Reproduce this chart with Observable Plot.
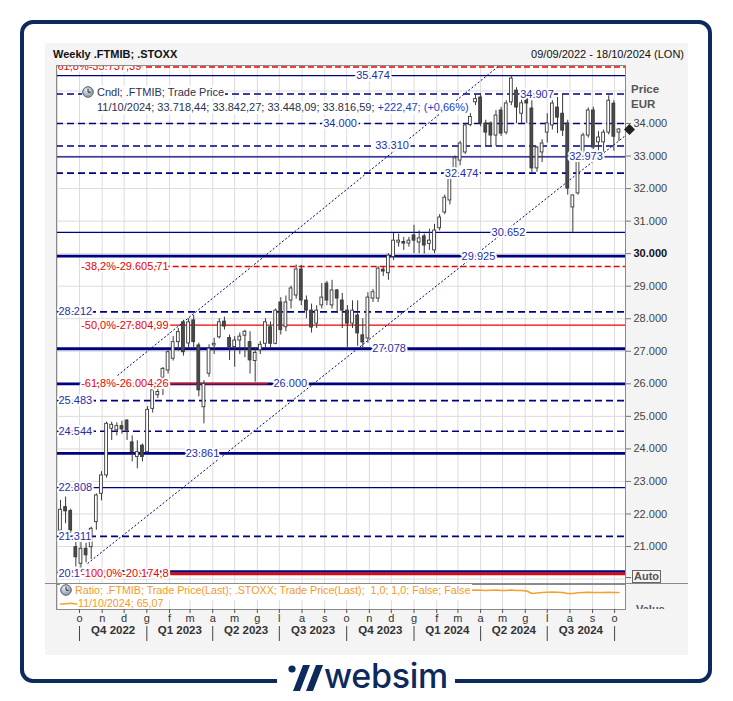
<!DOCTYPE html>
<html>
<head>
<meta charset="utf-8">
<script src="https://cdn.jsdelivr.net/npm/d3@7"></script>
<script src="https://cdn.jsdelivr.net/npm/@observablehq/plot@0.6"></script>
<style>
  body { margin: 0; background: #fff; }
  #wrap { position: relative; width: 733px; height: 701px; overflow: hidden; font-family: "Liberation Sans", Arial, sans-serif; font-size: 11px; }
  .abs { position: absolute; white-space: nowrap; }
  .frame { left: 20px; top: 20px; width: 692px; height: 663px; border: 4px solid #0d2a5c; border-radius: 13px; box-sizing: border-box; }
  .panel { left: 45px; top: 43px; width: 643px; height: 612px; background: #f4f4f4; }
  .lgd { background: #fff; line-height: 13px; }
</style>
</head>
<body>
<div id="wrap">
  <div class="abs frame"></div>
  <div class="abs panel"></div>
  <div class="abs" style="left:53px;top:48px;font-weight:bold;color:#111;line-height:13px;">Weekly .FTMIB; .STOXX</div>
  <div class="abs" style="right:49px;top:48px;color:#111;line-height:13px;">09/09/2022 - 18/10/2024 (LON)</div>
  <div id="plots"></div>
</div>
<script>
// ---------- DATA ----------
const firstWeek = "2022-09-05";
const lastWeek = "2024-10-07";
const lastCandleLabel = "11/10/2024";

const weekOpen = [21490,22210,22090,20980,20470,20930,20980,21750,22620,23184,
  24620,24570,24700,24870,24200,23750,24100,23900,25230,25650,
  26185,26410,26770,27280,27890,27240,27950,27180,25280,26310,
  27180,27430,27910,27410,27130,27330,27480,27280,26700,27030,
  27230,27740,27230,28500,27740,28560,28715,29513,28560,28250,
  27850,28410,29080,28410,28870,28560,28250,27850,28100,27490,
  27393,28620,28620,29510,29400,29900,30340,30360,30310,30560,
  30340,30530,30300,30100,30780,31265,31635,32620,32860,33110,
  33950,34650,34800,34000,34000,33630,34400,33720,34650,35010,
  34300,34800,34460,32620,33110,33720,33940,34490,34300,34000,
  31420,31850,33020,33630,34400,33420,33420,33720,34610,33718.44];
const weekHigh = [22420,22520,22150,21390,21240,21100,21600,22620,23300,24820,
  24820,24800,24850,24900,24400,24250,24150,25300,25850,25850,
  26500,27050,27450,27700,27950,28000,28100,27250,26100,27200,
  27400,28000,28050,27500,27450,27560,27650,27600,27100,27300,
  28000,27900,28300,28650,28700,29000,29650,29640,28700,28450,
  28400,29080,29150,29180,28900,28780,28400,28550,28550,28000,
  28800,28900,29600,29600,30000,30620,30600,30500,30500,30870,
  30700,30600,30750,30900,31200,31800,32450,33000,33450,34000,
  34307,34860,34900,34100,34050,34400,34500,34700,35474,35100,
  34800,34920,34700,33300,33500,34300,34700,34800,34907,34100,
  31800,33000,33700,34480,34500,33750,33800,34850,34700,33842.27];
const weekLow = [21390,21700,21400,20370,20175,20500,20600,21500,22400,23100,
  24260,24400,24450,24260,23600,23390,23600,23850,25100,25550,
  25640,26300,26700,27000,26850,27100,27100,25600,24770,26200,
  26900,27380,27650,26720,26510,26900,26800,26300,26050,26900,
  27100,27100,27200,27500,27600,28300,28600,28400,28000,27560,
  27700,28300,28400,28300,28160,27700,27120,27700,27150,27078,
  27250,28500,28500,29300,29180,29790,30200,30100,30200,30000,
  30000,29990,30100,30000,30700,31200,31500,32500,32700,33050,
  33900,34550,33900,33300,33260,33300,33600,33650,34550,34000,
  34000,34000,32474,32500,32800,33400,33800,33690,33600,31800,
  30652,31800,32960,33550,33200,33100,33050,33650,33150,33448.09];
const weekClose = [22130,22080,21490,20670,20930,20730,21545,22570,23184,24772,
  24740,24700,24600,24570,23900,23900,23750,25200,25800,25750,
  26460,26970,27280,27590,26970,27890,27280,25800,26000,27080,
  27230,27890,27760,27130,27330,27450,27600,26720,26950,27200,
  27890,27230,28250,27650,28500,28930,29513,28560,28250,27730,
  28250,28650,28560,28870,28620,28250,27850,28250,27550,27270,
  28650,28815,29540,29450,29940,30400,30400,30310,30400,30400,
  30470,30250,30400,30710,31110,31720,32400,32930,33385,33940,
  34200,34750,34000,33720,33630,34245,33690,34615,35380,34490,
  34620,34615,32620,33260,33385,34000,34615,34180,33780,32000,
  31790,32860,33630,34400,33260,33570,33720,34700,33594.12,33816.59];
const weekRatio = [53.4,53.8,54.2,53.5,53.9,53.6,53.8,54.3,55.2,56.4,
  56.2,55.8,55.6,55.9,55.4,55.9,55.8,56.9,57.3,57.5,
  57.9,58.9,59.6,59.5,59.1,59.8,59.9,58.6,59.5,59.6,
  59.0,59.4,59.5,58.9,59.4,59.5,59.7,58.9,58.8,59.1,
  59.9,59.8,60.6,60.3,61.2,61.4,62.3,61.8,62.0,61.5,
  61.9,62.2,62.4,62.3,62.4,62.5,62.7,62.6,62.9,63.0,
  62.9,63.4,63.6,63.5,63.2,63.4,63.5,63.7,63.6,64.0,
  64.2,64.1,63.5,63.6,64.2,64.8,65.7,66.1,66.4,66.9,
  67.3,67.5,67.2,67.0,67.3,67.4,66.9,67.0,67.6,67.1,
  66.9,66.5,64.0,64.6,65.0,65.2,65.4,65.3,65.0,64.1,
  64.0,64.8,65.0,65.2,65.1,65.0,64.9,65.3,65.0,65.07];

// horizontal support / resistance levels (navy)
const levelValues = [35474, 34907, 34000, 33310, 32973, 32474, 30652, 29925, 28212, 27078, 26000, 25483, 24544, 23861, 22808, 21311, 20183];
const levelLabels = ["35.474","34.907","34.000","33.310","32.973","32.474","30.652","29.925","28.212","27.078","26.000","25.483","24.544","23.861","22.808","21.311","20.183"];
const levelStyles = ["thin","dash","dash","dash","thin","dash","thin","thick","dash","thick","thick","dash","dash","thick","thin","dash","base"];
const levelLabelDates = ["2023-11-06","2024-06-17","2023-09-22","2023-12-02","2024-08-23","2024-03-06","2024-05-09","2024-03-29",null,"2023-11-28","2023-07-16",null,null,"2023-03-18",null,null,null];

// Fibonacci retracement levels (red)
const fibValues = [35737.39, 29605.71, 27804.99, 26004.26, 20174.8];
const fibLabels = ["61,8%-35.737,39", "-38,2%-29.605,71", "-50,0%-27.804,99", "-61,8%-26.004,26", "-100,0%-20.174,8"];
const fibStartDates = [null, "2022-10-06", "2022-10-06", "2022-10-06", "2022-10-06"];
const fibEndDates = [null, null, null, "2023-06-15", null];
const fibStyles = ["dash", "dash", "solid", "solid", "thick"];

// trend channel (dotted)
const channelStartDates = ["2022-11-22", "2022-10-12"];
const channelStartPrices = [26256, 20479];
const channelEndDates = ["2024-04-25", "2024-10-16"];
const channelEndPrices = [35752, 33631];

// axes
const priceTicks = [21000,22000,23000,24000,25000,26000,27000,28000,29000,30000,31000,32000,33000,34000];
const priceGrid = [20000,21000,22000,23000,24000,25000,26000,27000,28000,29000,30000,31000,32000,33000,34000,35000];
const boldTick = 30000;
const monthLetters = ["g","f","m","a","m","g","l","a","s","o","n","d"]; // Italian month initials Jan..Dec
const firstMonthLabel = "2022-10-01";
const quarterStarts = ["2022-10-01","2023-01-01","2023-04-01","2023-07-01","2023-10-01","2024-01-01","2024-04-01","2024-07-01","2024-10-01"];
const quarterLabels = ["Q4 2022","Q1 2023","Q2 2023","Q3 2023","Q4 2023","Q1 2024","Q2 2024","Q3 2024"];

// ---------- BUILD ----------
const dates = d3.utcMonday.range(new Date(firstWeek), d3.utcDay.offset(new Date(lastWeek), 1));
const weeks = dates.map((d, i) => ({date: d, open: weekOpen[i], high: weekHigh[i], low: weekLow[i], close: weekClose[i], ratio: weekRatio[i]}));
const xDomain = [new Date("2022-08-30T14:00Z"), new Date("2024-10-15T22:00Z")];
const allMonths = d3.utcMonth.range(new Date("2022-09-01"), new Date("2024-10-15")).filter(d => d >= xDomain[0]);
const monthTicks = allMonths.filter(d => d >= new Date(firstMonthLabel));
const qStarts = quarterStarts.map(d => new Date(d));
const quarters = quarterLabels.map((q, i) => ({label: q, mid: new Date((+qStarts[i] + +qStarts[i + 1]) / 2)}));

const levels = levelValues.map((v, i) => ({value: v, label: levelLabels[i], style: levelStyles[i], labelDate: levelLabelDates[i] ? new Date(levelLabelDates[i]) : null}));
const fibs = fibValues.map((v, i) => ({value: v, label: fibLabels[i], style: fibStyles[i],
  start: fibStartDates[i] ? new Date(fibStartDates[i]) : xDomain[0],
  end: fibEndDates[i] ? new Date(fibEndDates[i]) : xDomain[1],
  anchored: !!fibStartDates[i]}));
const channels = channelStartDates.map((d, i) => ({x1: new Date(d), y1: channelStartPrices[i], x2: new Date(channelEndDates[i]), y2: channelEndPrices[i]}));

const itNum = v => d3.format(",.2f")(v).replace(/[,.]/g, c => c === "," ? "." : ",");
const itInt = v => d3.format(",")(v).replace(/,/g, ".");

const NAVY = "#000080", LBL = "#1f2fa8", RED = "#ee0000", FONT = "Liberation Sans, Arial, sans-serif";
const widths = {thin: 1.2, dash: 1.6, thick: 2.8, base: 2.6};
const halo = {stroke: "white", strokeWidth: 4, paintOrder: "stroke"};

const main = Plot.plot({
  width: 733, height: 600,
  marginLeft: 56, marginRight: 108, marginTop: 65, marginBottom: 17,
  x: {type: "utc", domain: xDomain, axis: null, label: null},
  y: {domain: [19863.6, 35782.4], label: null},
  style: {background: "transparent", fontFamily: FONT, fontSize: "11px", color: "#444", overflow: "visible"},
  marks: [
    Plot.frame({fill: "white", stroke: "none"}),
    Plot.gridX(allMonths, {stroke: "#dcdcdc", strokeOpacity: 1}),
    Plot.gridY(priceGrid, {stroke: "#dcdcdc", strokeOpacity: 1}),
    ...["thin", "dash", "thick"].map(s => Plot.ruleY(levels.filter(d => d.style === s), {
      y: "value", stroke: NAVY, strokeWidth: widths[s], strokeDasharray: s === "dash" ? "7,4" : null})),
    Plot.ruleY(levels.filter(d => d.style === "base"), {y: "value", stroke: NAVY, strokeWidth: widths.base, dy: -1.6}),
    Plot.ruleY(fibs.filter(d => d.style === "dash"), {y: "value", x1: "start", x2: "end", stroke: RED, strokeWidth: 1.4, strokeDasharray: "6,3", clip: true}),
    Plot.ruleY(fibs.filter(d => d.style === "solid"), {y: "value", x1: "start", x2: "end", stroke: RED, strokeWidth: 1.4}),
    Plot.ruleY(fibs.filter(d => d.style === "thick"), {y: "value", x1: "start", x2: "end", stroke: RED, strokeWidth: 2.6, dy: 0.6}),
    Plot.link(channels, {x1: "x1", y1: "y1", x2: "x2", y2: "y2", stroke: NAVY, strokeWidth: 1, strokeDasharray: "2,2", clip: true}),
    // candles
    Plot.ruleX(weeks, {x: "date", y1: "low", y2: "high", stroke: "#383838", strokeWidth: 1}),
    Plot.rect(weeks, {
      x1: d => d3.utcHour.offset(d.date, -46), x2: d => d3.utcHour.offset(d.date, 46),
      y1: d => Math.min(d.open, d.close), y2: d => Math.max(d.open, d.close),
      fill: d => d.close >= d.open ? "white" : "#4a4a4a", stroke: "#383838", strokeWidth: 0.9}),
    // level labels
    Plot.text(levels.filter(d => d.labelDate), {x: "labelDate", y: "value", text: "label", fill: LBL, ...halo}),
    Plot.text(levels.filter(d => !d.labelDate), {y: "value", text: "label", frameAnchor: "left", textAnchor: "start", dx: 2, fill: LBL, ...halo}),
    Plot.text(fibs.filter(d => d.anchored), {x: "start", y: "value", text: "label", textAnchor: "start", dx: -2, fill: RED, ...halo}),
    Plot.text(fibs.filter(d => !d.anchored), {y: "value", text: "label", frameAnchor: "left", textAnchor: "start", dx: 1, fill: RED, ...halo, clip: true}),
    Plot.frame({stroke: "#8a8a8a"}),
    Plot.axisY(priceTicks, {anchor: "right", tickSize: 5, tickPadding: 3, stroke: "#777", fill: "#444",
      tickFormat: d => d === boldTick ? "" : itInt(d), label: null}),
    Plot.text([boldTick], {y: d => d, text: d => itInt(d), frameAnchor: "right", textAnchor: "start", dx: 8, fontWeight: "bold", fill: "#111"}),
    Plot.dot([weekClose[weekClose.length - 1]], {y: d => d, frameAnchor: "right", dx: 4, symbol: "diamond2", r: 4, fill: "#222", stroke: "#222"})
  ]
});
main.style.position = "absolute"; main.style.left = "0px"; main.style.top = "0px";

const lower = Plot.plot({
  width: 733, height: 62,
  marginLeft: 56, marginRight: 108, marginTop: 1, marginBottom: 36,
  x: {type: "utc", domain: xDomain, label: null},
  y: {domain: [48, 73], axis: null, label: null},
  style: {background: "transparent", fontFamily: FONT, fontSize: "11px", color: "#333", overflow: "visible"},
  marks: [
    Plot.frame({fill: "white", stroke: "none"}),
    Plot.gridX(allMonths, {stroke: "#dcdcdc", strokeOpacity: 1}),
    Plot.line(weeks, {x: "date", y: "ratio", stroke: "#f5a02a", strokeWidth: 1.5}),
    Plot.frame({stroke: "#8a8a8a"}),
    Plot.axisX(monthTicks, {anchor: "bottom", tickSize: 4, tickPadding: 1, tickFormat: d => monthLetters[d.getUTCMonth()], label: null, stroke: "#555", fill: "#333"}),
    Plot.text(quarters, {x: "mid", text: "label", frameAnchor: "bottom", dy: 24.5, fontWeight: "bold", fontSize: 11.5, fill: "#333"})
  ]
});
lower.style.position = "absolute"; lower.style.left = "0px"; lower.style.top = "583px";

// quarter separators band
const seps = Plot.plot({
  width: 733, height: 15,
  marginLeft: 56, marginRight: 108, marginTop: 0, marginBottom: 0,
  x: {type: "utc", domain: xDomain, axis: null, label: null},
  style: {background: "transparent"},
  marks: [Plot.ruleX(qStarts, {stroke: "#444", strokeWidth: 1})]
});
seps.style.position = "absolute"; seps.style.left = "0px"; seps.style.top = "626px";

const plots = document.getElementById("plots");
plots.append(main, lower, seps);

// ---------- overlays (legends, axis captions, logo) ----------
const last = weeks[weeks.length - 1], prev = weeks[weeks.length - 2];
const chg = last.close - prev.close;
const pct = d3.format(".2f")(chg / prev.close * 100).replace(".", ",");
const clock = `<svg width="12" height="12" style="vertical-align:-2px"><defs><radialGradient id="cg" cx="40%" cy="35%"><stop offset="0" stop-color="#eef2f6"/><stop offset="1" stop-color="#9aa6b4"/></radialGradient></defs><circle cx="6" cy="6" r="5.3" fill="url(#cg)" stroke="#55606e"/><path d="M6 2.8V6.2H8.6" stroke="#222" stroke-width="1" fill="none"/></svg>`;

const wrap = document.getElementById("wrap");
wrap.insertAdjacentHTML("beforeend", `
  <div class="abs lgd" style="left:82px;top:86px;padding-right:1px;color:#2b3150;">${clock}<span style="margin-left:3px">Cndl; .FTMIB; Trade Price</span></div>
  <div class="abs lgd" style="left:96px;top:101px;padding:0 1px;color:#2b3150;">${lastCandleLabel}; ${itNum(last.open)}; ${itNum(last.high)}; ${itNum(last.low)}; ${itNum(last.close)}; <span style="color:#2040c8">+${itNum(chg)}; (+${pct}%)</span></div>
  <div class="abs" style="left:631px;top:82px;font-weight:bold;font-size:11.5px;color:#555;line-height:14px;">Price</div>
  <div class="abs" style="left:631px;top:97px;font-weight:bold;font-size:11.5px;color:#555;line-height:14px;">EUR</div>
  <div class="abs" style="left:626px;top:577px;width:5px;height:1px;background:#666;"></div>
  <div class="abs" style="left:632px;top:570px;padding:0 1px;border:1px solid #666;font-weight:bold;color:#555;line-height:11px;background:#f4f4f4;">Auto</div>
  <div class="abs" style="left:45px;top:583px;width:643px;height:1px;background:#8a8a8a;"></div>
  <div class="abs lgd" style="left:60px;top:584px;height:16px;padding-right:2px;color:#f39a1e;font-size:10.7px;">${clock}<span style="margin-left:3px">Ratio; .FTMIB; Trade Price(Last); .STOXX; Trade Price(Last);&nbsp; 1,0; 1,0; False; False</span></div>
  <div class="abs lgd" style="left:77px;top:597px;height:12px;padding:0 1px;color:#f39a1e;overflow:hidden;font-size:10.7px;">${lastCandleLabel}; ${d3.format(".2f")(last.ratio).replace(".", ",")}</div>
  <div class="abs" style="left:636px;top:602px;height:7px;overflow:hidden;font-weight:bold;color:#555;line-height:13px;"><div style="margin-top:1px">Value</div></div>
  <div class="abs" style="left:277px;top:670px;width:178px;height:31px;background:#fff;"></div>
  <svg class="abs" style="left:286px;top:663px" width="40" height="30">
    <circle cx="6" cy="6" r="3.6" fill="#0d2a5c"/>
    <path d="M17 2 L24 2 L14 28 L7 28 Z" fill="#0d2a5c"/>
    <path d="M30 2 L37 2 L27 28 L20 28 Z" fill="#0d2a5c"/>
  </svg>
  <div class="abs" style="left:324px;top:656px;font-family:Inter, 'Noto Sans', sans-serif;font-weight:500;font-size:34px;line-height:40px;color:#0d2a5c;letter-spacing:-0.3px;">websim</div>
`);
</script>
</body>
</html>
